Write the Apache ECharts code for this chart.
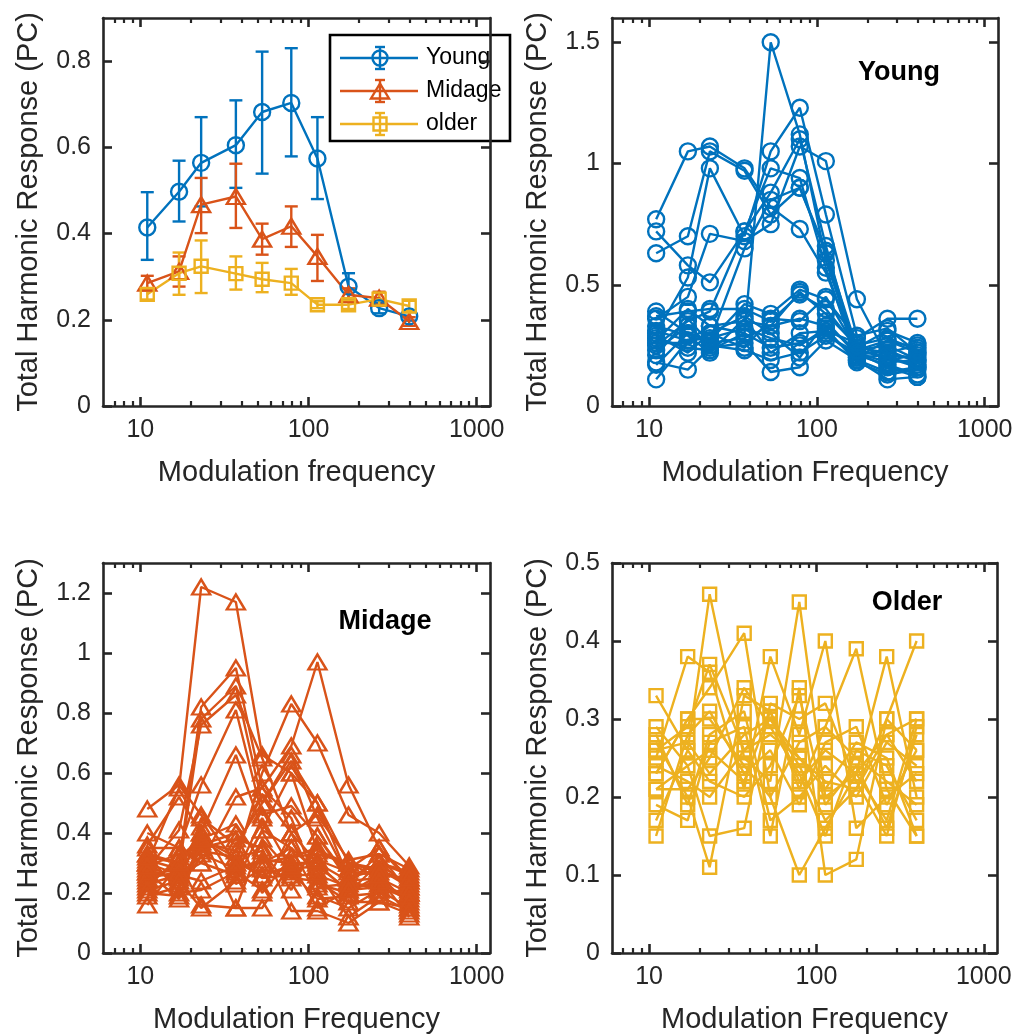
<!DOCTYPE html>
<html><head><meta charset="utf-8">
<script src="https://cdn.jsdelivr.net/npm/echarts@6/dist/echarts.min.js"></script>
<style>html,body{margin:0;padding:0;background:#fff}#c{width:1021px;height:1036px}</style>
</head><body><div id="c"></div>
<script>
// ---------------- DATA ----------------
const FREQ = [11, 17, 23, 37, 53, 79, 113, 173, 263, 397];
const X_MAJOR = [10, 100, 1000];
const X_MINOR = [7, 8, 9, 20, 30, 40, 50, 60, 70, 80, 90, 200, 300, 400, 500, 600, 700, 800, 900];

const Y_TICKS_1 = [0, 0.2, 0.4, 0.6, 0.8];
const Y_TICKS_2 = [0, 0.5, 1, 1.5];
const Y_TICKS_3 = [0, 0.2, 0.4, 0.6, 0.8, 1, 1.2];
const Y_TICKS_4 = [0, 0.1, 0.2, 0.3, 0.4, 0.5];

const GROUP_NAMES = ['Young', 'Midage', 'older'];

const MEAN_YOUNG  = [0.414, 0.497, 0.564, 0.605, 0.682, 0.703, 0.574, 0.277, 0.227, 0.208];
const LO_YOUNG    = [0.339, 0.428, 0.463, 0.506, 0.539, 0.579, 0.480, 0.246, 0.215, 0.198];
const HI_YOUNG    = [0.496, 0.569, 0.670, 0.709, 0.822, 0.830, 0.670, 0.308, 0.239, 0.218];

const MEAN_MIDAGE = [0.285, 0.312, 0.467, 0.486, 0.387, 0.417, 0.347, 0.258, 0.250, 0.196];
const LO_MIDAGE   = [0.268, 0.277, 0.401, 0.413, 0.351, 0.369, 0.290, 0.243, 0.235, 0.186];
const HI_MIDAGE   = [0.302, 0.347, 0.529, 0.562, 0.423, 0.463, 0.397, 0.273, 0.265, 0.206];

const MEAN_OLDER  = [0.259, 0.308, 0.324, 0.307, 0.294, 0.285, 0.235, 0.235, 0.248, 0.232];
const LO_OLDER    = [0.247, 0.258, 0.262, 0.270, 0.264, 0.258, 0.227, 0.225, 0.233, 0.220];
const HI_OLDER    = [0.271, 0.356, 0.384, 0.347, 0.332, 0.318, 0.243, 0.245, 0.263, 0.244];

// individual subjects (values at FREQ)
const SUBJ_YOUNG = [
  [0.77, 1.05, 1.07, 0.98, 0.82, 0.73, 0.55, 0.23, 0.20, 0.16],
  [0.72, 0.58, 0.51, 0.72, 0.88, 1.10, 0.66, 0.21, 0.17, 0.13],
  [0.63, 0.70, 1.05, 0.97, 0.79, 0.90, 0.63, 0.20, 0.27, 0.22],
  [0.30, 0.53, 0.98, 0.70, 1.05, 1.23, 0.79, 0.29, 0.32, 0.22],
  [0.36, 0.45, 0.71, 0.68, 0.75, 1.07, 1.01, 0.44, 0.20, 0.17],
  [0.27, 0.40, 0.33, 0.30, 1.50, 1.12, 0.60, 0.22, 0.16, 0.12],
  [0.25, 0.35, 0.39, 0.72, 0.98, 0.94, 0.57, 0.19, 0.14, 0.16],
  [0.17, 0.30, 0.27, 0.65, 0.85, 0.90, 0.64, 0.24, 0.22, 0.25],
  [0.39, 0.30, 0.27, 0.42, 0.38, 0.48, 0.44, 0.28, 0.36, 0.36],
  [0.37, 0.39, 0.40, 0.40, 0.35, 0.46, 0.40, 0.24, 0.31, 0.26],
  [0.31, 0.27, 0.33, 0.35, 0.33, 0.36, 0.33, 0.23, 0.27, 0.24],
  [0.28, 0.24, 0.23, 0.30, 0.24, 0.26, 0.30, 0.20, 0.21, 0.20],
  [0.23, 0.33, 0.25, 0.23, 0.19, 0.22, 0.29, 0.22, 0.18, 0.19],
  [0.18, 0.15, 0.24, 0.26, 0.14, 0.16, 0.27, 0.19, 0.11, 0.12],
  [0.11, 0.27, 0.28, 0.32, 0.28, 0.25, 0.32, 0.18, 0.13, 0.15],
  [0.26, 0.26, 0.30, 0.37, 0.30, 0.20, 0.35, 0.21, 0.23, 0.18],
  [0.33, 0.29, 0.22, 0.36, 0.22, 0.30, 0.31, 0.26, 0.19, 0.21],
  [0.21, 0.36, 0.26, 0.28, 0.33, 0.47, 0.38, 0.25, 0.28, 0.23],
  [0.29, 0.22, 0.30, 0.24, 0.36, 0.35, 0.45, 0.23, 0.25, 0.19]
];
const SUBJ_MIDAGE = [
  [0.30, 0.55, 1.22, 1.17, 0.66, 0.60, 0.50, 0.30, 0.25, 0.20],
  [0.48, 0.56, 0.46, 0.30, 0.60, 0.83, 0.70, 0.46, 0.40, 0.29],
  [0.33, 0.30, 0.82, 0.95, 0.55, 0.69, 0.97, 0.56, 0.35, 0.25],
  [0.26, 0.28, 0.78, 0.89, 0.50, 0.66, 0.45, 0.25, 0.30, 0.22],
  [0.28, 0.41, 0.76, 0.86, 0.65, 0.40, 0.30, 0.20, 0.26, 0.16],
  [0.40, 0.35, 0.56, 0.81, 0.46, 0.49, 0.39, 0.24, 0.21, 0.15],
  [0.36, 0.52, 0.40, 0.66, 0.41, 0.60, 0.34, 0.30, 0.27, 0.24],
  [0.23, 0.26, 0.30, 0.52, 0.55, 0.45, 0.23, 0.20, 0.30, 0.26],
  [0.20, 0.19, 0.38, 0.43, 0.30, 0.35, 0.19, 0.15, 0.21, 0.20],
  [0.16, 0.30, 0.40, 0.15, 0.15, 0.30, 0.30, 0.24, 0.25, 0.12],
  [0.30, 0.23, 0.35, 0.38, 0.35, 0.14, 0.14, 0.10, 0.17, 0.15],
  [0.27, 0.25, 0.34, 0.32, 0.25, 0.26, 0.26, 0.22, 0.23, 0.19],
  [0.33, 0.20, 0.21, 0.27, 0.21, 0.40, 0.46, 0.31, 0.33, 0.28],
  [0.24, 0.30, 0.16, 0.15, 0.38, 0.27, 0.18, 0.19, 0.20, 0.21],
  [0.30, 0.26, 0.24, 0.29, 0.30, 0.32, 0.35, 0.28, 0.35, 0.24],
  [0.19, 0.22, 0.45, 0.36, 0.50, 0.64, 0.50, 0.25, 0.28, 0.23],
  [0.35, 0.35, 0.30, 0.26, 0.45, 0.28, 0.29, 0.21, 0.22, 0.18],
  [0.22, 0.32, 0.38, 0.32, 0.34, 0.21, 0.39, 0.25, 0.30, 0.27],
  [0.31, 0.28, 0.42, 0.23, 0.28, 0.25, 0.24, 0.17, 0.17, 0.13],
  [0.27, 0.18, 0.36, 0.40, 0.20, 0.32, 0.33, 0.30, 0.28, 0.22],
  [0.25, 0.27, 0.37, 0.34, 0.53, 0.40, 0.22, 0.23, 0.33, 0.20],
  [0.29, 0.33, 0.33, 0.28, 0.31, 0.30, 0.15, 0.21, 0.24, 0.17],
  [0.21, 0.24, 0.15, 0.24, 0.41, 0.35, 0.27, 0.12, 0.19, 0.14],
  [0.32, 0.30, 0.38, 0.30, 0.26, 0.29, 0.31, 0.27, 0.26, 0.25]
];
const SUBJ_OLDER = [
  [0.33, 0.26, 0.46, 0.25, 0.22, 0.45, 0.20, 0.23, 0.28, 0.30],
  [0.25, 0.38, 0.36, 0.21, 0.38, 0.28, 0.40, 0.16, 0.20, 0.23],
  [0.27, 0.20, 0.11, 0.33, 0.31, 0.21, 0.29, 0.39, 0.21, 0.15],
  [0.23, 0.30, 0.34, 0.41, 0.20, 0.10, 0.16, 0.23, 0.38, 0.20],
  [0.19, 0.17, 0.27, 0.29, 0.15, 0.34, 0.10, 0.12, 0.30, 0.40],
  [0.29, 0.24, 0.15, 0.16, 0.32, 0.30, 0.32, 0.22, 0.15, 0.29],
  [0.15, 0.28, 0.31, 0.23, 0.26, 0.19, 0.27, 0.29, 0.19, 0.26],
  [0.21, 0.21, 0.25, 0.34, 0.29, 0.23, 0.15, 0.26, 0.24, 0.17],
  [0.26, 0.29, 0.37, 0.26, 0.30, 0.25, 0.22, 0.21, 0.28, 0.22],
  [0.17, 0.26, 0.22, 0.20, 0.24, 0.33, 0.19, 0.24, 0.16, 0.28],
  [0.28, 0.19, 0.28, 0.31, 0.17, 0.20, 0.24, 0.20, 0.27, 0.24],
  [0.23, 0.30, 0.30, 0.24, 0.20, 0.27, 0.29, 0.25, 0.22, 0.19],
  [0.26, 0.27, 0.23, 0.28, 0.30, 0.24, 0.17, 0.21, 0.30, 0.26],
  [0.21, 0.24, 0.26, 0.22, 0.31, 0.22, 0.26, 0.23, 0.17, 0.30],
  [0.24, 0.22, 0.20, 0.26, 0.28, 0.25, 0.21, 0.27, 0.25, 0.15]
];

// ---------------- STYLE / LAYOUT ----------------
const C_YOUNG = '#0072BD', C_MID = '#D95319', C_OLD = '#EDB120';
const AX = '#262626';
const FONT = '"Liberation Sans", Arial, Helvetica, sans-serif';
const LW = 2.4;

const GRIDS = [
  {left: 103, top: 18, width: 387, height: 388},
  {left: 612, top: 18, width: 386, height: 388},
  {left: 103, top: 563, width: 387, height: 390},
  {left: 612, top: 563, width: 385, height: 390}
];
const Y_MAX = [0.9, 1.6, 1.3, 0.5];
const Y_TICKS = [Y_TICKS_1, Y_TICKS_2, Y_TICKS_3, Y_TICKS_4];
const X_NAMES = ['Modulation frequency', 'Modulation Frequency', 'Modulation Frequency', 'Modulation Frequency'];
const Y_NAME = 'Total Harmonic Response (PC)';

const xAxes = [], yAxes = [];
GRIDS.forEach((g, gi) => {
  const base = {
    type: 'log', logBase: 10, min: 6, max: 1200, gridIndex: gi,
    splitLine: {show: false}, minorTick: {show: false}, minorSplitLine: {show: false}
  };
  xAxes.push(Object.assign({}, base, {
    position: 'bottom',
    axisLine: {show: true, onZero: false, lineStyle: {color: AX, width: 2.6}},
    axisTick: {show: true, inside: true, length: 9, customValues: X_MAJOR, lineStyle: {color: AX, width: 2.6}},
    axisLabel: {show: true, customValues: X_MAJOR, margin: 12, color: AX, fontSize: 25, fontFamily: FONT,
      formatter: v => String(Math.round(v))},
    name: X_NAMES[gi], nameLocation: 'middle', nameGap: 52,
    nameTextStyle: {color: AX, fontSize: 29, fontFamily: FONT}
  }));
  xAxes.push(Object.assign({}, base, {
    position: 'bottom',
    axisLine: {show: false, onZero: false},
    axisTick: {show: true, inside: true, length: 5, customValues: X_MINOR, lineStyle: {color: AX, width: 2.2}},
    axisLabel: {show: false}
  }));
  xAxes.push(Object.assign({}, base, {
    position: 'top',
    axisLine: {show: true, onZero: false, lineStyle: {color: AX, width: 2.6}},
    axisTick: {show: true, inside: true, length: 9, customValues: X_MAJOR, lineStyle: {color: AX, width: 2.6}},
    axisLabel: {show: false}
  }));
  xAxes.push(Object.assign({}, base, {
    position: 'top',
    axisLine: {show: false, onZero: false},
    axisTick: {show: true, inside: true, length: 5, customValues: X_MINOR, lineStyle: {color: AX, width: 2.2}},
    axisLabel: {show: false}
  }));
  const yb = {type: 'value', min: 0, max: Y_MAX[gi], gridIndex: gi, splitLine: {show: false}};
  yAxes.push(Object.assign({}, yb, {
    position: 'left',
    axisLine: {show: true, onZero: false, lineStyle: {color: AX, width: 2.6}},
    axisTick: {show: true, inside: true, length: 9, customValues: Y_TICKS[gi], lineStyle: {color: AX, width: 2.6}},
    axisLabel: {show: true, customValues: Y_TICKS[gi], margin: 12, color: AX, fontSize: 25, fontFamily: FONT,
      formatter: v => String(+(+v).toFixed(2))},
    name: Y_NAME, nameLocation: 'middle', nameGap: 60, nameRotate: 90,
    nameTextStyle: {color: AX, fontSize: 29, fontFamily: FONT}
  }));
  yAxes.push(Object.assign({}, yb, {
    position: 'right',
    axisLine: {show: true, onZero: false, lineStyle: {color: AX, width: 2.6}},
    axisTick: {show: true, inside: true, length: 9, customValues: Y_TICKS[gi], lineStyle: {color: AX, width: 2.6}},
    axisLabel: {show: false}
  }));
});

function pairs(vals) { return FREQ.map((f, i) => [f, vals[i]]); }

function lineSeries(gi, vals, color, symbol, size, name) {
  return {
    type: 'line', name: name, xAxisIndex: gi * 4, yAxisIndex: gi * 2,
    data: pairs(vals), symbol: symbol, symbolSize: size, showSymbol: true, showAllSymbol: true,
    itemStyle: {color: 'rgba(0,0,0,0)', borderColor: color, borderWidth: LW},
    lineStyle: {color: color, width: LW},
    emphasis: {disabled: true}, silent: true, animation: false, clip: false
  };
}
function errSeries(lo, hi, color) {
  return {
    type: 'custom', xAxisIndex: 0, yAxisIndex: 0, silent: true, animation: false,
    data: FREQ.map((f, i) => [f, lo[i], hi[i]]),
    encode: {x: 0, y: [1, 2]},
    renderItem: (params, api) => {
      const x = api.value(0);
      const a = api.coord([x, api.value(1)]);
      const b = api.coord([x, api.value(2)]);
      const hw = 6.5;
      const st = {stroke: color, lineWidth: LW, fill: null};
      return {type: 'group', children: [
        {type: 'line', shape: {x1: a[0], y1: a[1], x2: b[0], y2: b[1]}, style: st},
        {type: 'line', shape: {x1: a[0] - hw, y1: a[1], x2: a[0] + hw, y2: a[1]}, style: st},
        {type: 'line', shape: {x1: b[0] - hw, y1: b[1], x2: b[0] + hw, y2: b[1]}, style: st}
      ]};
    }
  };
}

const series = [];
series.push(errSeries(LO_YOUNG, HI_YOUNG, C_YOUNG));
series.push(lineSeries(0, MEAN_YOUNG, C_YOUNG, 'circle', 16, GROUP_NAMES[0]));
series.push(errSeries(LO_MIDAGE, HI_MIDAGE, C_MID));
series.push(lineSeries(0, MEAN_MIDAGE, C_MID, 'triangle', [18, 15], GROUP_NAMES[1]));
series.push(errSeries(LO_OLDER, HI_OLDER, C_OLD));
series.push(lineSeries(0, MEAN_OLDER, C_OLD, 'rect', 13, GROUP_NAMES[2]));
SUBJ_YOUNG.forEach(s => series.push(lineSeries(1, s, C_YOUNG, 'circle', 16)));
SUBJ_MIDAGE.forEach(s => series.push(lineSeries(2, s, C_MID, 'triangle', [18, 15])));
SUBJ_OLDER.forEach(s => series.push(lineSeries(3, s, C_OLD, 'rect', 13)));

// legend (MATLAB style box) and panel labels
function legendRow(y, color, kind, label) {
  const st = {stroke: color, lineWidth: LW, fill: null};
  const els = [
    {type: 'line', shape: {x1: 340, y1: y, x2: 418, y2: y}, style: st},
    {type: 'line', shape: {x1: 380, y1: y - 11, x2: 380, y2: y + 11}, style: st},
    {type: 'line', shape: {x1: 375, y1: y - 11, x2: 385, y2: y - 11}, style: st},
    {type: 'line', shape: {x1: 375, y1: y + 11, x2: 385, y2: y + 11}, style: st}
  ];
  if (kind === 'circle') els.push({type: 'circle', shape: {cx: 380, cy: y, r: 7.5}, style: st});
  if (kind === 'triangle') els.push({type: 'polygon', shape: {points: [[380, y - 7.5], [389, y + 7.5], [371, y + 7.5]]}, style: st});
  if (kind === 'rect') els.push({type: 'rect', shape: {x: 373.5, y: y - 6.5, width: 13, height: 13}, style: st});
  els.push({type: 'text', x: 426, y: y, style: {text: label, fill: '#000', font: '23px ' + FONT, textVerticalAlign: 'middle', verticalAlign: 'middle'}});
  return els;
}
const graphic = [
  {type: 'group', z: 100, children: [
    {type: 'rect', shape: {x: 330, y: 35, width: 180, height: 106}, style: {fill: '#fff', stroke: '#000', lineWidth: 2.6}},
    ...legendRow(58, C_YOUNG, 'circle', GROUP_NAMES[0]),
    ...legendRow(91, C_MID, 'triangle', GROUP_NAMES[1]),
    ...legendRow(124, C_OLD, 'rect', GROUP_NAMES[2])
  ]},
  {type: 'text', x: 899, y: 73, z: 100, style: {text: 'Young', fill: '#000', font: 'bold 27px ' + FONT, textAlign: 'center', align: 'center', verticalAlign: 'middle', textVerticalAlign: 'middle'}},
  {type: 'text', x: 385, y: 622, z: 100, style: {text: 'Midage', fill: '#000', font: 'bold 27px ' + FONT, textAlign: 'center', align: 'center', verticalAlign: 'middle', textVerticalAlign: 'middle'}},
  {type: 'text', x: 907, y: 603, z: 100, style: {text: 'Older', fill: '#000', font: 'bold 27px ' + FONT, textAlign: 'center', align: 'center', verticalAlign: 'middle', textVerticalAlign: 'middle'}}
];

const chart = echarts.init(document.getElementById('c'), null, {renderer: 'canvas'});
chart.setOption({
  animation: false,
  backgroundColor: '#fff',
  grid: GRIDS.map(g => Object.assign({containLabel: false, show: false}, g)),
  xAxis: xAxes,
  yAxis: yAxes,
  series: series,
  graphic: graphic
});
</script></body></html>
